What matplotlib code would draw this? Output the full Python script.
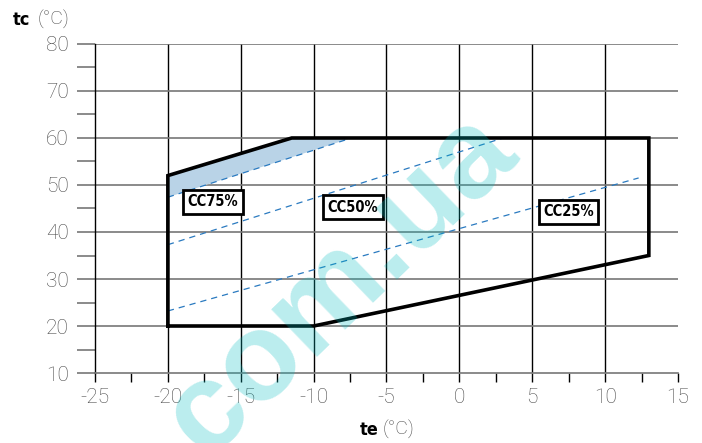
import numpy as np
import matplotlib.pyplot as plt

plt.rcParams["axes.unicode_minus"] = False

# operating envelope (te, tc)
env_te = [-20, -20, -11.5, 13, 13, -10, -20]
env_tc = [20, 52, 60, 60, 35, 20, 20]

# capacity-control limit lines (start, end)
cc_names = ["CC75%", "CC50%", "CC25%"]
cc_te = [[-20, -7.6], [-20, 3.0], [-20, 12.3]]
cc_tc = [[47.4, 59.8], [37.3, 60.0], [23.2, 51.5]]
lab_te = [-16.9, -7.3, 7.5]
lab_tc = [46.4, 45.3, 44.3]

# shaded CC75 zone
shade_te = [-20, -20, -11.5, -7.6]
shade_tc = [47.4, 52, 60, 59.8]

xticks = [-25, -20, -15, -10, -5, 0, 5, 10, 15]
yticks = [10, 20, 30, 40, 50, 60, 70, 80]

LIGHT = ["Roboto", "DejaVu Sans"]
COND = ["Liberation Sans Narrow", "DejaVu Sans"]
GRAY = "#4a4a4a"

fig = plt.figure(figsize=(7.02, 4.43), dpi=100)
ax = fig.add_axes([0.1353, 0.158, 0.8305, 0.7427])

ax.set_xlim(-25, 15)
ax.set_ylim(10, 80)
for s in ["top", "right"]:
    ax.spines[s].set_visible(False)
ax.spines["left"].set_color("black")
ax.spines["left"].set_linewidth(1.0)
ax.spines["bottom"].set_color("#777777")
ax.spines["bottom"].set_linewidth(1.2)

for x in xticks[1:-1]:
    ax.axvline(x, color="black", lw=1.0, zorder=1)
for y in yticks[1:]:
    ax.axhline(y, color="#777777", lw=1.2, zorder=1)

ax.set_xticks(xticks)
ax.set_yticks(yticks)
ax.set_xticks(np.arange(-22.5, 15, 5), minor=True)
ax.set_yticks(np.arange(15, 80, 10), minor=True)
ax.tick_params(axis="x", which="both", direction="out", length=6.5, width=1.0,
               color="black", pad=4)
ax.tick_params(axis="y", which="both", direction="out", length=13, width=1.2,
               color="#777777", pad=6)
for lab in ax.get_xticklabels() + ax.get_yticklabels():
    lab.set_family(LIGHT)
    lab.set_weight("light")
    lab.set_fontsize(15)
    lab.set_color(GRAY)

ax.fill(shade_te, shade_tc, color="#b9d3e7", lw=0, zorder=2)

for xs, ys in zip(cc_te, cc_tc):
    ax.plot(xs, ys, color="#2a7ac0", lw=0.9, dashes=(5, 4), zorder=3)

ax.plot(env_te, env_tc, color="black", lw=2.6, solid_joinstyle="miter",
        zorder=4)

for name, x, y in zip(cc_names, lab_te, lab_tc):
    ax.text(x, y, name, ha="center", va="center", fontsize=10.5,
            family=COND, weight="bold", stretch="condensed", zorder=5,
            bbox=dict(boxstyle="square,pad=0.3", fc="white", ec="black",
                      lw=2.0))

fig.text(0.018, 0.955, "tc", fontsize=13, weight="bold", family=COND,
         stretch="condensed", va="center")
fig.text(0.053, 0.955, "(°C)", fontsize=14, family=LIGHT, weight="light",
         color=GRAY, va="center")
fig.text(0.512, 0.03, "te", fontsize=13, weight="bold", family=COND,
         stretch="condensed", va="center")
fig.text(0.545, 0.03, "(°C)", fontsize=14, family=LIGHT, weight="light",
         color=GRAY, va="center")

fig.text(0.485, 0.355, "com.ua", fontsize=90, color="#00bcc0",
         alpha=0.27, rotation=44, ha="center", va="center", zorder=10,
         family=["Liberation Sans", "DejaVu Sans"], weight="bold")

fig.savefig("out.png", dpi=100)
